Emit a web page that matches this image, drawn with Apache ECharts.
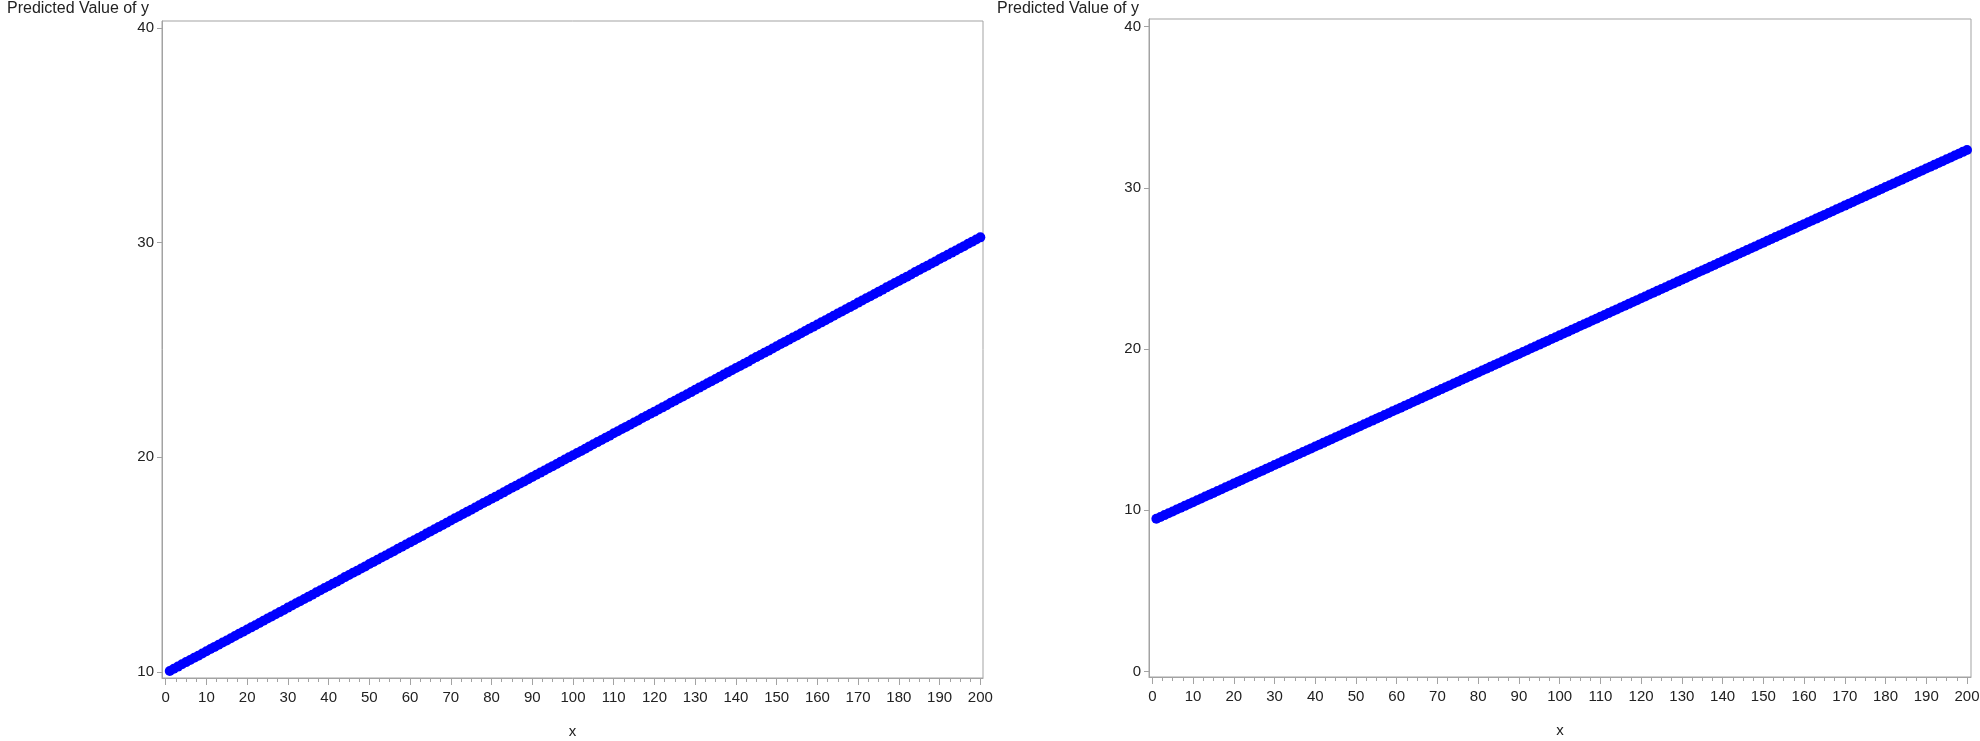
<!DOCTYPE html>
<html>
<head>
<meta charset="utf-8">
<script src="https://cdn.jsdelivr.net/npm/echarts@6/dist/echarts.min.js"></script>
<style>
html,body{margin:0;padding:0;background:#fff;}
#chart{width:1980px;height:741px;}
</style>
</head>
<body>
<div id="chart"></div>
<script>
const yTitle = 'Predicted Value of y';
const xTitle = 'x';
const xTicks = [0,10,20,30,40,50,60,70,80,90,100,110,120,130,140,150,160,170,180,190,200];
const yTicksLeft = [10,20,30,40];
const yTicksRight = [0,10,20,30,40];

const xValues = [1,2,3,4,5,6,7,8,9,10,11,12,13,14,15,16,17,18,19,20,21,22,23,24,25,26,27,28,29,30,31,32,33,34,35,36,37,38,39,40,41,42,43,44,45,46,47,48,49,50,51,52,53,54,55,56,57,58,59,60,61,62,63,64,65,66,67,68,69,70,71,72,73,74,75,76,77,78,79,80,81,82,83,84,85,86,87,88,89,90,91,92,93,94,95,96,97,98,99,100,101,102,103,104,105,106,107,108,109,110,111,112,113,114,115,116,117,118,119,120,121,122,123,124,125,126,127,128,129,130,131,132,133,134,135,136,137,138,139,140,141,142,143,144,145,146,147,148,149,150,151,152,153,154,155,156,157,158,159,160,161,162,163,164,165,166,167,168,169,170,171,172,173,174,175,176,177,178,179,180,181,182,183,184,185,186,187,188,189,190,191,192,193,194,195,196,197,198,199,200];

const predLeft = [
10.05,10.15,10.25,10.36,10.46,10.56,10.66,10.76,10.86,10.97,
11.07,11.17,11.27,11.37,11.47,11.57,11.68,11.78,11.88,11.98,
12.08,12.18,12.28,12.39,12.49,12.59,12.69,12.79,12.89,13.00,
13.10,13.20,13.30,13.40,13.50,13.60,13.71,13.81,13.91,14.01,
14.11,14.21,14.31,14.42,14.52,14.62,14.72,14.82,14.92,15.03,
15.13,15.23,15.33,15.43,15.53,15.63,15.74,15.84,15.94,16.04,
16.14,16.24,16.34,16.45,16.55,16.65,16.75,16.85,16.95,17.06,
17.16,17.26,17.36,17.46,17.56,17.66,17.77,17.87,17.97,18.07,
18.17,18.27,18.37,18.48,18.58,18.68,18.78,18.88,18.98,19.09,
19.19,19.29,19.39,19.49,19.59,19.69,19.80,19.90,20.00,20.10,
20.20,20.30,20.40,20.51,20.61,20.71,20.81,20.91,21.01,21.12,
21.22,21.32,21.42,21.52,21.62,21.72,21.83,21.93,22.03,22.13,
22.23,22.33,22.43,22.54,22.64,22.74,22.84,22.94,23.04,23.15,
23.25,23.35,23.45,23.55,23.65,23.75,23.86,23.96,24.06,24.16,
24.26,24.36,24.46,24.57,24.67,24.77,24.87,24.97,25.07,25.18,
25.28,25.38,25.48,25.58,25.68,25.78,25.89,25.99,26.09,26.19,
26.29,26.39,26.49,26.60,26.70,26.80,26.90,27.00,27.10,27.21,
27.31,27.41,27.51,27.61,27.71,27.81,27.92,28.02,28.12,28.22,
28.32,28.42,28.52,28.63,28.73,28.83,28.93,29.03,29.13,29.24,
29.34,29.44,29.54,29.64,29.74,29.84,29.95,30.05,30.15,30.25];

const predRight = [
9.465,9.58,9.695,9.81,9.925,10.04,10.155,10.27,10.385,10.5,
10.615,10.73,10.845,10.96,11.075,11.19,11.305,11.42,11.535,11.65,
11.765,11.88,11.995,12.11,12.225,12.34,12.455,12.57,12.685,12.8,
12.915,13.03,13.145,13.26,13.375,13.49,13.605,13.72,13.835,13.95,
14.065,14.18,14.295,14.41,14.525,14.64,14.755,14.87,14.985,15.1,
15.215,15.33,15.445,15.56,15.675,15.79,15.905,16.02,16.135,16.25,
16.365,16.48,16.595,16.71,16.825,16.94,17.055,17.17,17.285,17.4,
17.515,17.63,17.745,17.86,17.975,18.09,18.205,18.32,18.435,18.55,
18.665,18.78,18.895,19.01,19.125,19.24,19.355,19.47,19.585,19.7,
19.815,19.93,20.045,20.16,20.275,20.39,20.505,20.62,20.735,20.85,
20.965,21.08,21.195,21.31,21.425,21.54,21.655,21.77,21.885,22,
22.115,22.23,22.345,22.46,22.575,22.69,22.805,22.92,23.035,23.15,
23.265,23.38,23.495,23.61,23.725,23.84,23.955,24.07,24.185,24.3,
24.415,24.53,24.645,24.76,24.875,24.99,25.105,25.22,25.335,25.45,
25.565,25.68,25.795,25.91,26.025,26.14,26.255,26.37,26.485,26.6,
26.715,26.83,26.945,27.06,27.175,27.29,27.405,27.52,27.635,27.75,
27.865,27.98,28.095,28.21,28.325,28.44,28.555,28.67,28.785,28.9,
29.015,29.13,29.245,29.36,29.475,29.59,29.705,29.82,29.935,30.05,
30.165,30.28,30.395,30.51,30.625,30.74,30.855,30.97,31.085,31.2,
31.315,31.43,31.545,31.66,31.775,31.89,32.005,32.12,32.235,32.35];

const xMinorTicks = xTicks.slice(0, -1).flatMap(t => [t + 2.5, t + 5, t + 7.5]);

const FONT = 'Liberation Sans, Arial, sans-serif';
const AXIS_COLOR = '#a3a3a3';
const TEXT_COLOR = '#222';

function pairs(xs, ys) { return xs.map((x, i) => [x, ys[i]]); }

function majorX(gridIndex, min, max) {
  return {
    type: 'value', gridIndex, position: 'bottom', min, max,
    name: xTitle, nameLocation: 'middle', nameGap: 46,
    nameTextStyle: { fontFamily: FONT, fontSize: 15, color: TEXT_COLOR },
    axisLine: { show: true, onZero: false, lineStyle: { color: AXIS_COLOR, width: 1 } },
    axisTick: { show: true, length: 7, customValues: xTicks, lineStyle: { color: AXIS_COLOR } },
    axisLabel: { show: true, customValues: xTicks, margin: 12, fontFamily: FONT, fontSize: 15, color: TEXT_COLOR },
    splitLine: { show: false }
  };
}
function minorX(gridIndex, min, max) {
  return {
    type: 'value', gridIndex, position: 'bottom', min, max,
    axisLine: { show: false, onZero: false },
    axisTick: { show: true, length: 4, customValues: xMinorTicks, lineStyle: { color: AXIS_COLOR } },
    axisLabel: { show: false },
    splitLine: { show: false }
  };
}
function yAx(gridIndex, min, max, ticks) {
  return {
    type: 'value', gridIndex, position: 'left', min, max,
    axisLine: { show: true, onZero: false, lineStyle: { color: AXIS_COLOR, width: 1 } },
    axisTick: { show: true, length: 5, customValues: ticks, lineStyle: { color: AXIS_COLOR } },
    axisLabel: { show: true, customValues: ticks, margin: 8, fontFamily: FONT, fontSize: 15, color: TEXT_COLOR },
    splitLine: { show: false }
  };
}

const chart = echarts.init(document.getElementById('chart'), null, { renderer: 'canvas' });
chart.setOption({
  animation: false,
  backgroundColor: '#fff',
  title: [
    { text: yTitle, left: 7, top: 1, padding: 0, textStyle: { fontFamily: FONT, fontSize: 16, fontWeight: 'normal', color: TEXT_COLOR } },
    { text: yTitle, left: 997, top: 1, padding: 0, textStyle: { fontFamily: FONT, fontSize: 16, fontWeight: 'normal', color: TEXT_COLOR } }
  ],
  grid: [
    { left: 162, top: 21, width: 821, height: 657, show: true, borderColor: AXIS_COLOR, borderWidth: 1, outerBoundsMode: 'none', containLabel: false },
    { left: 1149, top: 19, width: 822, height: 658, show: true, borderColor: AXIS_COLOR, borderWidth: 1, outerBoundsMode: 'none', containLabel: false }
  ],
  xAxis: [
    majorX(0, -0.91, 200.66),
    minorX(0, -0.91, 200.66),
    majorX(1, -0.81, 200.98),
    minorX(1, -0.81, 200.98)
  ],
  yAxis: [
    yAx(0, 9.72, 40.33, yTicksLeft),
    yAx(1, -0.35, 40.48, yTicksRight)
  ],
  series: [
    { type: 'scatter', xAxisIndex: 0, yAxisIndex: 0, data: pairs(xValues, predLeft), symbol: 'circle', symbolSize: 10, itemStyle: { color: '#0000ff', opacity: 1 } },
    { type: 'scatter', xAxisIndex: 2, yAxisIndex: 1, data: pairs(xValues, predRight), symbol: 'circle', symbolSize: 10, itemStyle: { color: '#0000ff', opacity: 1 } }
  ]
});
</script>
</body>
</html>
